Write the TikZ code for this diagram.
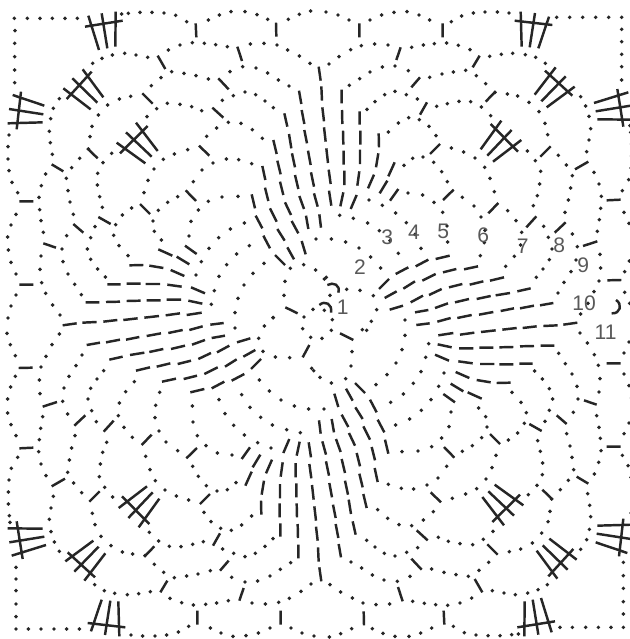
\documentclass[tikz,border=0pt]{standalone}
\usepackage{fontspec}
\setmainfont{Liberation Sans}
\tikzset{stitch/.style={line width=1.05pt,color=black!85},
  rowlabel/.style={text=black!65,font=\fontsize{9}{9}\selectfont,inner sep=0pt}}
\begin{document}
\begin{tikzpicture}[x=0.005cm,y=-0.005cm]
\useasboundingbox (0,0) rectangle (1887,1917);
% one quarter, turned four times
\foreach \r in {0,-90,-180,-270} {
\begin{scope}[rotate around={\r:(960,972)}]
\foreach \p in {(365,42),(385,40),(420,37),(456,37),(492,39),(527,46),(560,65),(625,60),(658,45),(693,35),(735,35),(771,44),(803,58),(865,58),(898,43),(932,33),
  (27,405),(24,440),(24,477),(27,512),(36,547),(53,578),(48,643),(33,675),(23,711),(25,750),(33,787),(48,822),(48,885),(33,918),(24,954),
  (278,190),(306,175),(337,165),(374,160),(408,165),(443,172),(505,150),(540,135),(577,128),(613,130),(647,134),(682,140),(751,132),(792,130),(831,135),(863,150),(898,168),(930,190),
  (160,325),(152,356),(148,394),(151,428),(157,463),(137,522),(124,557),(117,592),(119,629),(123,662),(130,697),(123,768),(120,808),(125,848),(137,880),(158,915),(180,945),
  (178,296),(323,315),(358,297),(392,289),(454,257),(483,233),(515,215),(552,220),(588,227),(625,237),(690,215),(728,200),(768,204),(803,219),(835,240),(867,258),
  (295,345),(276,379),(270,410),(265,447),(239,475),(215,503),(199,535),(204,572),(210,606),(220,643),(200,707),(186,747),(189,785),(204,822),(224,853),(244,884),
  (309,488),(335,460),(293,520),(292,555),(299,590),(307,622),(285,680),(272,713),(262,747),(272,778),(293,807),(316,831),
  (367,645),(395,624),(347,674),(341,706),(357,737),(384,767),
  (470,326),(502,310),(540,313),(575,320),(605,332),(667,301),(700,287),(735,276),(767,284),(795,303),(820,323),(441,350),
  (490,478),(523,462),(563,449),(639,489),(679,477),(716,479),(755,491),(650,384),(620,409),(685,367),(723,370),(757,389),(787,415),
  (462,507),(444,541),(432,578),(503,607),(533,590),(606,510),(580,545),(625,604),(666,591),(714,589),(595,630),(573,664),(567,708),(627,745),(656,713),(691,687),(733,669),
  (475,631),(459,663),(463,694),(484,720),(604,785),(680,794),(710,762),(748,737),(792,790),(759,820),(732,855),(714,895),(705,938),(657,829),(643,872),(634,913),(588,825),(820,953),(948,717)}
  \fill[black!85] \p circle[radius=5.8];
% clusters
\draw[stitch] (255,80)--(368,62) (265,47)--(297,150) (305,40)--(322,145) (347,35)--(346,140);
\draw[stitch] (63,275)--(50,388) (38,285)--(133,317) (27,327)--(130,343) (23,370)--(128,367);
\draw[stitch] (200,297)--(275,215) (190,265)--(272,328) (217,235)--(292,308) (248,208)--(310,292);
\draw[stitch] (360,460)--(443,378) (350,428)--(436,490) (378,397)--(455,470) (408,368)--(473,453);
% single bars
\draw[stitch] (587,70)--(589,112) (828,68)--(829,110) (473,167)--(496,207) (712,140)--(726,183) (655,235)--(686,268) (427,280)--(458,311)
  (637,323)--(670,353) (597,437)--(628,467) (262,445)--(293,475) (155,493)--(190,514) (557,571)--(588,603) (58,604)--(100,604) (420,612)--(450,642)
  (295,651)--(332,672) (220,672)--(250,698) (130,730)--(168,743) (555,737)--(590,762) (58,854)--(100,854);
% fan, columns
\draw[stitch] (897,272)--(904,312) (905,330)--(913,372) (913,390)--(921,430) (924,452)--(932,495) (933,517)--(942,560) (942,580)--(953,620) (958,643)--(963,683);
\draw[stitch] (853,340)--(862,380) (867,402)--(874,445) (876,460)--(885,502) (885,525)--(895,567) (898,588)--(912,627) (918,647)--(925,687);
\draw[stitch] (820,420)--(830,462) (832,482)--(842,523) (840,545)--(850,585) (855,607)--(873,645) (875,663)--(895,700) (905,723)--(917,763);
\draw[stitch] (787,498)--(796,540) (795,563)--(805,603) (810,625)--(830,665) (832,687)--(854,722) (862,742)--(882,778);
\draw[stitch] (755,583)--(765,625) (767,647)--(787,685) (790,707)--(810,745) (825,765)--(855,795);
% fan, rows
\draw[stitch] (475,748)--(517,767) (530,770)--(568,793);
\draw[stitch] (388,796)--(430,795) (448,797)--(490,804) (512,810)--(553,828);
\draw[stitch] (322,853)--(362,853) (380,851)--(422,851) (437,852)--(480,852) (502,854)--(545,860) (573,862)--(615,880);
\draw[stitch] (257,907)--(298,907) (318,906)--(360,905) (380,903)--(422,902) (440,901)--(482,901) (500,899)--(543,899) (565,902)--(607,911);
\draw[stitch] (188,976)--(230,970) (247,968)--(290,966) (310,965)--(352,960) (370,960)--(413,955) (433,953)--(477,948) (497,946)--(540,940) (560,945)--(605,938);
\end{scope}
}
% square corners
\foreach \p in {(43,55),(82,55),(120,55),(157,55),(195,55),(232,55),(45,92),(44,130),(44,170),(44,210),(44,248),
  (1670,52),(1709,52),(1748,52),(1787,52),(1826,52),(1865,52),(1865,88),(1865,125),(1865,163),(1865,200),(1865,240),
  (1870,1687),(1870,1727),(1870,1765),(1870,1805),(1870,1842),(1870,1882),(1680,1882),(1717,1882),(1757,1882),(1795,1882),(1833,1882),
  (48,1702),(48,1737),(48,1772),(48,1812),(48,1850),(48,1887),(85,1887),(123,1887),(162,1887),(200,1887),(238,1887)}
  \fill[black!85] \p circle[radius=5.8];
% centre
\foreach \p in {(912,951),(939,928),(973,931),(997,959),(994,991),(966,1015),(932,1012),(908,986),
  (852,886),(855,844),(871,805),(911,794),(947,810),(973,837),(990,886),(1040,868),(1080,871),(1120,887),(1130,929),(1114,964),(1087,989),
  (1056,1055),(1053,1098),(1037,1136),(994,1149),(960,1132),(935,1105),(869,1073),(826,1071),(789,1054),(776,1015),(793,978),(819,953)}
  \fill[black!85] \p circle[radius=5.8];
\draw[stitch] (856,922)--(893,940) (1020,1000)--(1060,1020) (908,1072)--(928,1035);
\draw[stitch] (982,855) .. controls (1000,845) and (1022,855) .. (1015,878);
\draw[stitch] (958,915) .. controls (975,900) and (998,912) .. (993,938);
\draw[stitch] (1848,900) .. controls (1868,912) and (1862,942) .. (1835,940);
% round numbers
\foreach \t/\px/\py in {1/1028/922,2/1080/800,3/1162/712,4/1242/698,5/1330/695,6/1450/707,7/1568/740,8/1678/735,9/1750/795,10/1752/910,11/1817/997}
  \node[rowlabel] (row\t) at (\px,\py) {\t};
\end{tikzpicture}
\end{document}
